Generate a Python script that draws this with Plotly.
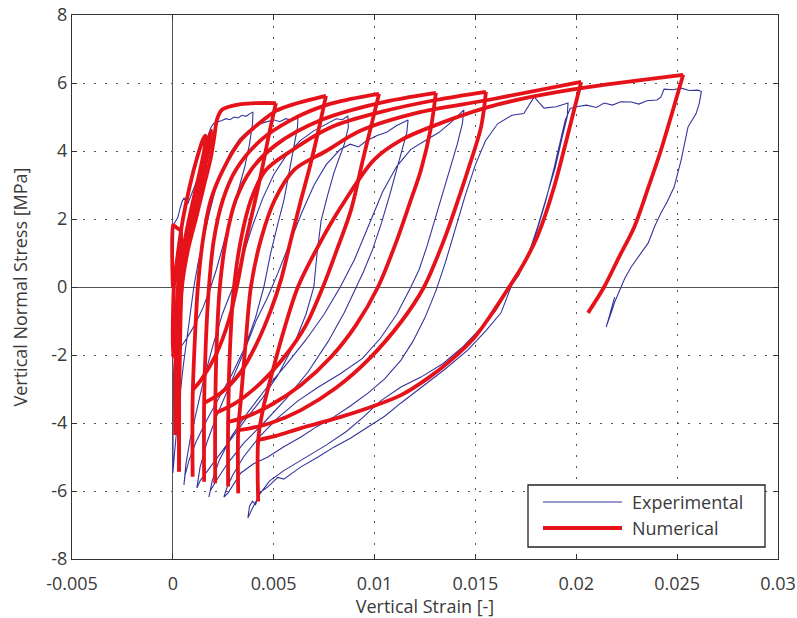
import plotly.graph_objects as go

# Strain values below are listed in units of 1e-3 (converted when plotted); stress in MPa.
STRAIN_UNIT = 1e-3

# ---------------- Numerical model ----------------
# first small cycles close to zero strain (they form the dense band)
num_start = [(0, 0), (0, 1.82), (0.20, 1.74), (0.40, 1.65), (0.30, 0.50), (0.15, -1.0), (0, -2.06),
             (0.0, -1.0), (0.05, 0), (0.25, 1.0), (0.50, 2.0), (0.85, 3.0), (1.20, 3.8), (1.50, 4.35), (1.62, 4.45),
             (1.55, 4.0), (1.30, 3.3), (0.95, 2.4), (0.60, 1.4), (0.30, 0.3), (0.18, -1.0), (0.12, -2.5), (0.12, -4.35),
             (0.15, -3.0), (0.20, -1.5), (0.28, 0), (0.55, 1.2), (0.85, 2.1), (1.20, 3.0), (1.55, 3.85), (1.80, 4.4),
             (1.92, 4.6), (1.80, 4.1), (1.55, 3.4), (1.20, 2.5), (0.85, 1.6), (0.55, 0.7), (0.38, -0.5), (0.32, -2.0),
             (0.31, -3.5), (0.31, -5.43)]
# reloading branches (bottom -> knee -> peak) and unloading branches (peak -> knee)
num_r1 = [(0.31, -5.43), (0.31, -3.32), (0.36, -1.56), (0.45, 0), (0.75, 1.09), (1.14, 2.0), (1.55, 3.0), (1.88, 3.8),
          (2.05, 4.4), (2.20, 4.95), (2.45, 5.22), (3.37, 5.38), (5.11, 5.41)]
num_u1 = [(5.11, 5.41), (4.76, 4.47), (4.36, 3.29), (3.97, 2.26), (3.57, 1.24), (3.17, 0), (2.78, -0.97), (2.13, -2.0),
          (1.39, -2.74), (0.98, -3.03)]
num_r2 = [(0.98, -5.58), (0.98, -3.32), (1.09, -1.56), (1.24, 0), (1.49, 1.38), (1.88, 2.56), (2.48, 3.44), (3.37, 4.32),
          (4.61, 4.97), (5.11, 5.18), (5.85, 5.35), (7.59, 5.62)]
num_u2 = [(7.59, 5.62), (7.19, 4.53), (6.75, 3.44), (6.35, 2.56), (5.85, 1.38), (5.36, 0.21), (4.86, -0.68), (4.12, -1.71),
          (3.37, -2.50), (2.38, -3.12), (1.55, -3.41)]
num_r3 = [(1.55, -5.73), (1.55, -3.42), (1.64, -1.56), (1.79, 0), (2.03, 1.38), (2.48, 2.56), (3.12, 3.44), (4.36, 4.32),
          (5.85, 4.91), (7.59, 5.35), (8.83, 5.53), (10.22, 5.68)]
num_u3 = [(10.22, 5.68), (9.82, 4.71), (9.42, 3.74), (8.83, 2.26), (8.13, 1.09), (7.44, 0), (6.60, -1.12), (5.60, -2.0),
          (4.36, -2.82), (3.12, -3.41), (2.10, -3.71)]
num_r4 = [(2.10, -5.77), (2.10, -3.70), (2.18, -1.56), (2.33, 0), (2.63, 1.38), (3.12, 2.56), (3.87, 3.44), (5.11, 4.18),
          (7.34, 4.91), (10.22, 5.41), (13.04, 5.71)]
num_u4 = [(13.04, 5.71), (12.80, 4.71), (12.30, 3.44), (11.80, 2.56), (11.11, 1.38), (10.17, 0), (9.08, -1.12), (7.84, -2.06),
          (6.35, -2.88), (4.86, -3.47), (3.62, -3.82), (2.74, -3.97)]
num_r5 = [(2.74, -5.87), (2.74, -3.97), (2.83, -1.85), (3.03, 0), (3.37, 1.38), (3.87, 2.56), (4.61, 3.44), (5.85, 4.00),
          (7.84, 4.70), (10.32, 5.15), (13.04, 5.50), (15.52, 5.74)]
num_u5 = [(15.52, 5.74), (15.28, 4.71), (14.63, 3.44), (14.14, 2.56), (13.44, 1.38), (12.45, 0), (11.31, -1.03), (9.67, -2.15),
          (8.08, -2.97), (6.35, -3.62), (4.86, -4.0), (3.87, -4.15), (3.24, -4.21)]
num_r6 = [(3.24, -6.07), (3.24, -4.21), (3.37, -3.32), (3.62, -1.56), (3.87, 0), (4.36, 1.38), (5.05, 2.56), (6.00, 3.44),
          (7.60, 4.00), (9.32, 4.60), (12.30, 5.15), (15.62, 5.50), (20.24, 6.03)]
num_u6 = [(20.24, 6.03), (19.64, 4.62), (18.90, 2.94), (18.10, 1.53), (17.36, 0.65), (16.67, 0), (15.77, -0.82), (14.93, -1.50),
          (13.79, -2.15), (12.65, -2.68), (11.31, -3.18), (9.82, -3.53), (8.33, -3.82), (6.35, -4.15), (5.11, -4.38),
          (4.23, -4.50)]
num_r7 = [(4.23, -6.31), (4.23, -4.50), (4.46, -3.62), (4.96, -2.44), (5.51, -1.26), (6.20, 0), (7.24, 1.24), (8.33, 2.35),
          (9.97, 3.74), (11.31, 4.32), (12.80, 4.71), (15.62, 5.29), (17.76, 5.59), (20.24, 5.85), (25.30, 6.24)]
num_u7 = [(25.30, 6.24), (24.75, 5.12), (24.20, 4.03), (23.56, 2.91), (22.87, 1.76), (22.12, 0.88), (21.38, 0), (20.58, -0.76)]

# ---------------- Experimental record ----------------
exp_load = [(0, 0), (0.03, 1.10), (0.05, 1.85), (0.15, 1.95), (0.25, 2.05), (0.35, 2.30), (0.45, 2.50), (0.55, 2.62),
            (0.64, 2.55), (0.74, 2.45), (0.84, 2.60), (0.99, 2.80), (1.14, 3.05), (1.29, 3.30), (1.44, 3.65), (1.59, 4.05),
            (1.74, 4.45), (1.89, 4.70), (2.03, 4.82), (2.23, 4.85), (2.43, 4.90), (2.63, 4.95), (2.83, 4.92), (3.03, 5.00),
            (3.23, 4.97), (3.43, 5.05), (3.63, 5.02), (3.83, 5.10), (3.97, 5.15)]
exp_u1 = [(3.97, 5.15), (3.95, 4.80), (3.80, 4.20), (3.55, 3.50), (3.27, 2.90), (3.03, 2.40), (2.75, 1.80), (2.45, 1.10),
          (2.15, 0.50), (1.85, -0.05), (1.50, -0.60), (1.10, -1.10), (0.70, -1.50), (0.35, -1.80), (0.10, -2.00),
          (0.03, -2.60), (0.02, -3.50), (0.01, -4.40), (0.0, -5.47)]
exp_r2 = [(0.0, -5.47), (0.08, -4.90), (0.20, -4.10), (0.35, -3.20), (0.52, -2.30), (0.72, -1.40), (0.90, -0.60), (1.04, 0),
          (1.25, 0.70), (1.50, 1.40), (1.80, 2.15), (2.10, 2.85), (2.45, 3.45), (2.85, 3.95), (3.30, 4.35), (3.75, 4.60),
          (4.20, 4.78), (4.60, 4.85), (5.00, 4.92), (5.30, 4.86), (5.60, 4.95), (5.90, 4.90), (6.20, 4.97)]
exp_u2 = [(6.20, 4.97), (6.18, 4.70), (6.00, 4.10), (5.75, 3.30), (5.51, 2.56), (5.20, 1.85), (4.85, 1.00), (4.51, 0),
          (4.10, -0.90), (3.55, -1.80), (2.90, -2.60), (2.25, -3.30), (1.65, -3.95), (1.15, -4.55), (0.80, -5.10),
          (0.60, -5.55), (0.55, -5.82)]
exp_r3 = [(0.55, -5.82), (0.65, -5.20), (0.85, -4.50), (1.15, -3.70), (1.50, -2.80), (1.95, -1.80), (2.45, -0.80), (2.98, 0),
          (3.45, 0.85), (3.95, 1.80), (4.45, 2.60), (5.00, 3.30), (5.60, 3.85), (6.30, 4.30), (7.00, 4.60), (7.60, 4.80),
          (8.10, 4.95), (8.40, 4.92), (8.68, 5.03)]
exp_u3 = [(8.68, 5.03), (8.70, 4.70), (8.50, 4.20), (8.25, 3.80), (7.98, 3.35), (7.65, 2.65), (7.35, 1.95), (7.15, 1.00),
          (6.99, 0), (6.60, -0.80), (6.00, -1.70), (5.20, -2.60), (4.40, -3.30), (3.60, -3.90), (2.85, -4.50), (2.20, -5.00),
          (1.65, -5.45), (1.35, -5.70), (1.19, -5.91)]
exp_r4 = [(1.19, -5.91), (1.35, -5.30), (1.70, -4.55), (2.20, -3.75), (2.85, -2.85), (3.50, -1.95), (4.12, -1.00),
          (4.70, -0.30), (5.20, 0.40), (5.80, 1.30), (6.40, 2.20), (7.00, 3.00), (7.60, 3.60), (8.30, 4.05), (8.80, 4.20),
          (9.20, 4.12), (9.60, 4.30), (10.10, 4.45), (10.60, 4.55), (11.10, 4.75), (11.66, 4.91)]
exp_u4 = [(11.66, 4.91), (11.60, 4.55), (11.40, 4.10), (11.10, 3.40), (10.75, 2.70), (10.35, 1.90), (9.90, 1.10),
          (9.45, 0.45), (9.08, 0), (8.50, -0.75), (7.70, -1.60), (6.70, -2.50), (5.60, -3.30), (4.50, -4.00), (3.50, -4.60),
          (2.70, -5.20), (2.15, -5.70), (1.85, -6.00), (1.79, -6.18)]
exp_r5 = [(1.79, -6.18), (1.95, -5.70), (2.30, -5.10), (2.90, -4.40), (3.70, -3.70), (4.60, -3.00), (5.60, -2.30),
          (6.60, -1.55), (7.50, -0.80), (8.30, 0), (9.00, 0.80), (9.70, 1.80), (10.40, 2.80), (11.10, 3.55), (11.80, 4.05),
          (12.50, 4.30), (13.20, 4.55), (13.80, 4.85), (14.43, 5.21)]
exp_u5 = [(14.43, 5.21), (14.35, 4.80), (14.10, 4.20), (13.80, 3.60), (13.45, 2.90), (13.05, 2.10), (12.60, 1.20),
          (12.20, 0.50), (11.80, 0), (11.10, -0.80), (10.30, -1.50), (9.40, -2.10), (8.30, -2.55), (7.20, -2.95),
          (6.20, -3.35), (5.20, -3.85), (4.30, -4.40), (3.50, -5.00), (2.95, -5.55), (2.65, -5.95), (2.53, -6.18)]
exp_r6 = [(2.53, -6.18), (2.73, -6.06), (3.37, -5.47), (4.00, -5.20), (4.71, -5.00), (5.50, -4.70), (6.35, -4.41),
          (7.15, -4.10), (7.98, -3.82), (8.80, -3.50), (9.67, -3.12), (10.50, -2.70), (11.31, -2.15), (11.90, -1.60),
          (12.50, -0.90), (13.05, -0.10), (13.50, 0.70), (14.00, 1.70), (14.50, 2.70), (15.00, 3.60), (15.50, 4.30),
          (16.10, 4.80), (16.80, 5.05), (17.40, 5.10), (17.91, 5.59), (18.40, 5.26), (19.00, 5.30), (19.59, 5.41)]
exp_u6 = [(19.59, 5.41), (19.55, 5.00), (19.30, 4.40), (18.95, 3.50), (18.50, 2.60), (18.10, 1.80), (17.65, 1.00),
          (17.15, 0.35), (16.67, -0.05), (16.00, -0.70), (15.20, -1.25), (14.40, -1.75), (13.40, -2.25), (12.30, -2.65),
          (11.31, -2.94), (10.30, -3.35), (9.40, -3.85), (8.60, -4.25), (7.60, -4.65), (6.50, -5.05), (5.50, -5.40),
          (4.80, -5.70), (4.30, -6.10), (3.95, -6.50), (3.72, -6.79)]
exp_r7 = [(3.72, -6.79), (3.80, -6.45), (3.95, -6.30), (4.10, -6.40), (4.30, -6.05), (4.71, -5.88), (5.20, -5.60),
          (5.50, -5.65), (6.35, -5.29), (7.20, -5.00), (7.98, -4.71), (8.80, -4.45), (9.67, -4.12), (10.50, -3.80),
          (11.31, -3.41), (12.40, -2.90), (13.44, -2.44), (14.63, -1.85), (15.50, -1.30), (16.27, -0.76), (16.76, 0),
          (17.30, 0.55), (17.76, 1.09), (18.15, 1.85), (18.50, 2.56), (18.90, 3.50), (19.24, 4.32), (19.45, 4.90),
          (19.70, 5.25), (20.00, 5.30), (20.50, 5.35), (21.00, 5.28), (21.38, 5.41), (21.80, 5.35), (22.20, 5.45),
          (22.72, 5.44), (23.10, 5.38), (23.50, 5.48), (24.00, 5.50), (24.20, 5.59), (24.35, 5.82), (24.80, 5.80),
          (25.20, 5.85), (25.60, 5.78), (26.04, 5.79), (26.20, 5.75)]
exp_u7 = [(26.20, 5.75), (26.10, 5.41), (25.94, 5.10), (25.54, 4.71), (25.20, 3.74), (24.85, 2.94), (24.50, 2.50),
          (24.20, 2.18), (23.90, 1.80), (23.56, 1.29), (23.10, 0.90), (22.72, 0.59), (22.40, 0.25), (22.22, 0),
          (22.07, -0.18), (21.90, -0.45), (21.73, -0.76), (21.60, -0.95), (21.48, -1.18), (21.62, -0.90),
          (21.75, -0.60), (21.90, -0.30)]

num_cycles = [num_r1, num_u1, num_r2, num_u2, num_r3, num_u3, num_r4, num_u4,
              num_r5, num_u5, num_r6, num_u6, num_r7, num_u7]
exp_path = [exp_load, exp_u1, exp_r2, exp_u2, exp_r3, exp_u3, exp_r4, exp_u4,
            exp_r5, exp_u5, exp_r6, exp_u6, exp_r7, exp_u7]

x_ticks = [-0.005, 0, 0.005, 0.01, 0.015, 0.02, 0.025, 0.03]
x_labels = ["-0.005", "0", "0.005", "0.01", "0.015", "0.02", "0.025", "0.03"]
y_ticks = [-8, -6, -4, -2, 0, 2, 4, 6, 8]
y_labels = ["-8", "-6", "-4", "-2", "0", "2", "4", "6", "8"]

EXP_COLOR = "#34349c"
NUM_COLOR = "#e6121a"
TEXT_COLOR = "#3a3a3a"
NUM_WIDTH = 3.8
EXP_WIDTH = 1.1


def join(branches, gaps=False):
    xs, ys = [], []
    for br in branches:
        for s, q in br:
            xs.append(s * STRAIN_UNIT)
            ys.append(q)
        if gaps:
            xs.append(None)
            ys.append(None)
    return xs, ys


ex, ey = join(exp_path)
sx, sy = join([num_start])
nx, ny = join(num_cycles, gaps=True)

fig = go.Figure()
fig.add_trace(go.Scatter(x=ex, y=ey, mode="lines", name="Experimental",
                         line=dict(color=EXP_COLOR, width=EXP_WIDTH), showlegend=False))
fig.add_trace(go.Scatter(x=sx, y=sy, mode="lines", name="Numerical", legendgroup="num",
                         line=dict(color=NUM_COLOR, width=NUM_WIDTH, shape="spline", smoothing=0.5),
                         showlegend=False))
fig.add_trace(go.Scatter(x=nx, y=ny, mode="lines", name="Numerical", legendgroup="num",
                         line=dict(color=NUM_COLOR, width=NUM_WIDTH, shape="spline", smoothing=0.9),
                         connectgaps=False, showlegend=False))

axis_common = dict(
    showgrid=True, gridcolor="#555555", gridwidth=1, griddash="2px,9px",
    zeroline=True, zerolinecolor="#555555", zerolinewidth=1,
    showline=True, linecolor="#333333", linewidth=1, mirror="ticks",
    ticks="inside", ticklen=5, tickcolor="#333333",
    tickfont=dict(size=18, color=TEXT_COLOR), automargin=False,
)
fig.update_xaxes(range=[-0.005, 0.03], tickvals=x_ticks, ticktext=x_labels, ticklabelstandoff=8,
                 title=dict(text="Vertical Strain [-]", standoff=7,
                            font=dict(size=18, color=TEXT_COLOR)), **axis_common)
fig.update_yaxes(range=[-8, 8], tickvals=y_ticks, ticktext=y_labels,
                 title=dict(text="Vertical Normal Stress [MPa]", standoff=19,
                            font=dict(size=18, color=TEXT_COLOR)), **axis_common)

# legend box drawn in paper coordinates
leg_x0, leg_x1, leg_y0, leg_y1 = 0.6459, 0.9816, 0.0221, 0.1360
fig.add_shape(type="rect", xref="paper", yref="paper", x0=leg_x0, x1=leg_x1, y0=leg_y0, y1=leg_y1,
              line=dict(color="#222222", width=1.3), fillcolor="white", layer="above")
fig.add_shape(type="line", xref="paper", yref="paper", x0=0.6671, x1=0.7790, y0=0.1048, y1=0.1048,
              line=dict(color=EXP_COLOR, width=EXP_WIDTH), layer="above")
fig.add_shape(type="line", xref="paper", yref="paper", x0=0.6671, x1=0.7790, y0=0.0570, y1=0.0570,
              line=dict(color=NUM_COLOR, width=NUM_WIDTH), layer="above")
for label, yy in (("Experimental", 0.1048), ("Numerical", 0.0570)):
    fig.add_annotation(text=label, xref="paper", yref="paper", x=0.7904, y=yy,
                       xanchor="left", yanchor="middle", showarrow=False,
                       font=dict(size=18, color=TEXT_COLOR))

fig.update_layout(
    width=797, height=618,
    margin=dict(l=72, r=19, t=15, b=59),
    paper_bgcolor="white", plot_bgcolor="white",
    font=dict(family="Open Sans", size=18, color=TEXT_COLOR),
    showlegend=False,
)

fig.write_html("out.html")
